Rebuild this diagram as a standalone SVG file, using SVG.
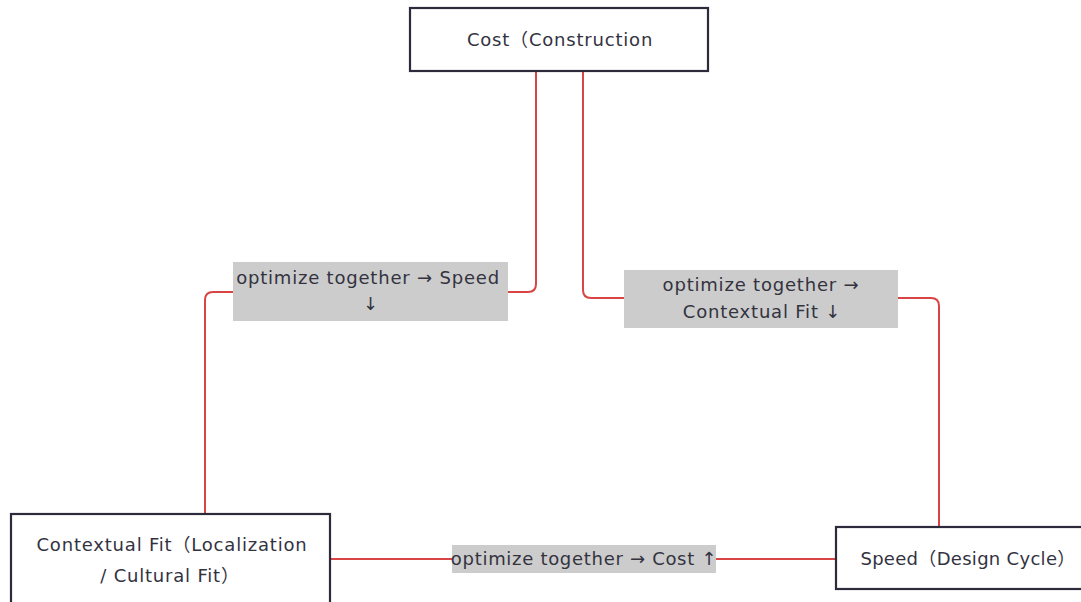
<svg xmlns="http://www.w3.org/2000/svg" width="1081" height="602" viewBox="0 0 1081 602">
<style>
.node{fill:#ffffff;stroke:#2b2b3b;stroke-width:2.2}
.t{font-family:"DejaVu Sans","Noto Sans CJK SC",sans-serif;font-size:18px;letter-spacing:0.8px;fill:#33333f;text-anchor:middle}
.edge{fill:none;stroke:#d94444;stroke-width:2}
.lbl{fill:#cccccc}
</style>
<rect width="1081" height="602" fill="#ffffff"/>
<g id="connectors">
<path class="edge" d="M536,71 V284 Q536,292 528,292 H213 Q205,292 205,300 V514"/>
<path class="edge" d="M583,71 V290 Q583,298 591,298 H931 Q939,298 939,306 V527"/>
<path class="edge" d="M330,559 H836"/>
<g id="label-cost-context">
<rect class="lbl" x="233" y="262" width="275" height="59"/>
<text class="t" x="368" y="284">optimize together → Speed</text>
<text class="t" x="371" y="310">↓</text>
</g>
<g id="label-cost-speed">
<rect class="lbl" x="624" y="270" width="274" height="58"/>
<text class="t" x="761" y="291">optimize together →</text>
<text class="t" x="762" y="318">Contextual Fit ↓</text>
</g>
<g id="label-context-speed">
<rect class="lbl" x="452" y="545" width="264" height="28"/>
<text class="t" x="584" y="565" style="letter-spacing:0.7px">optimize together → Cost ↑</text>
</g>
</g>
<g id="node-cost">
<rect class="node" x="410" y="8" width="298" height="63"/>
<text class="t" x="560" y="46">Cost（Construction</text>
</g>
<g id="node-context">
<rect class="node" x="11" y="514" width="319" height="100"/>
<text class="t" x="172" y="551">Contextual Fit（Localization</text>
<text class="t" x="170" y="582">/ Cultural Fit）</text>
</g>
<g id="node-speed">
<rect class="node" x="836" y="527" width="260" height="62"/>
<text class="t" x="968" y="565" style="letter-spacing:0.3px">Speed（Design Cycle）</text>
</g>
</svg>
